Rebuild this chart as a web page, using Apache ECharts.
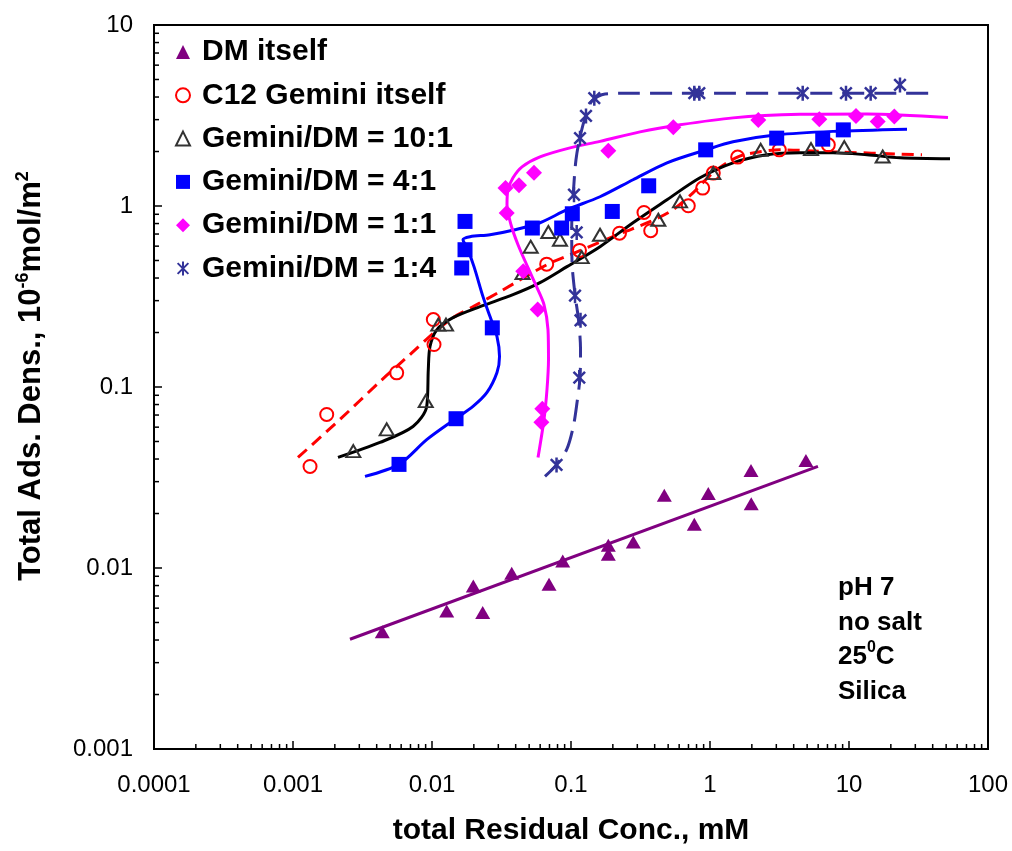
<!DOCTYPE html>
<html>
<head>
<meta charset="utf-8">
<script src="https://cdn.jsdelivr.net/npm/echarts@6/dist/echarts.min.js"></script>
<style>
  html, body { margin: 0; padding: 0; background: #fff; }
  #chart { width: 1012px; height: 851px; }
</style>
</head>
<body>
<div id="chart"></div>
<script>
// Axis ranges and tick labels
const X_MIN = 0.0001, X_MAX = 100;
const Y_MIN = 0.001, Y_MAX = 10;
const xTickLabels = ['0.0001', '0.001', '0.01', '0.1', '1', '10', '100'];
const yTickLabels = ['0.001', '0.01', '0.1', '1', '10'];
const xDecades = [0.0001, 0.001, 0.01, 0.1, 1, 10];
const yDecades = [0.001, 0.01, 0.1, 1];
const minorMultipliers = [2, 3, 4, 5, 6, 7, 8, 9];

// Measured adsorption density vs residual concentration: [conc mM, density]
const dmItself = [
  [0.00439, 0.00444], [0.01276, 0.00579], [0.02316, 0.00568], [0.01982, 0.00796],
  [0.03745, 0.00935], [0.0695, 0.00813], [0.0872, 0.01094], [0.1855, 0.01335],
  [0.1855, 0.0119], [0.2807, 0.0139], [0.469, 0.0252], [0.771, 0.01743],
  [0.972, 0.02584], [1.972, 0.03462], [1.98, 0.02267], [4.90, 0.0393]
];
const c12Gemini = [
  [0.001326, 0.0364], [0.001748, 0.0705], [0.005572, 0.1197], [0.01022, 0.2358],
  [0.01034, 0.1716], [0.06686, 0.4772], [0.1151, 0.5684], [0.2233, 0.7073],
  [0.3745, 0.7303], [0.335, 0.921], [0.698, 1.003], [0.886, 1.256],
  [1.056, 1.52], [1.582, 1.863], [3.152, 2.043], [7.10, 2.177]
];
const ratio10to1 = [
  [0.002715, 0.0442], [0.004722, 0.0583], [0.009012, 0.0835], [0.0111, 0.2212],
  [0.01261, 0.2212], [0.0448, 0.4266], [0.0513, 0.5958], [0.0687, 0.7182],
  [0.0833, 0.6513], [0.1194, 0.5215], [0.1617, 0.694], [0.4247, 0.8397],
  [0.6085, 1.06], [1.056, 1.52], [2.316, 2.043], [5.33, 2.062],
  [9.25, 2.115], [17.47, 1.877]
];
const ratio4to1 = [
  [0.00579, 0.03736], [0.01489, 0.0668], [0.01636, 0.4546], [0.01728, 0.5735],
  [0.01728, 0.8219], [0.02716, 0.2122], [0.0527, 0.7557], [0.0857, 0.7557],
  [0.1022, 0.906], [0.1982, 0.933], [0.3622, 1.293], [0.931, 2.043],
  [3.019, 2.371], [6.47, 2.341], [9.10, 2.634]
];
const ratio1to1 = [
  [0.03379, 1.256], [0.04224, 1.302], [0.03446, 0.9144], [0.05418, 1.526],
  [0.04536, 0.4354], [0.05761, 0.2677], [0.06217, 0.0758], [0.0612, 0.0639],
  [0.1855, 2.017], [0.5445, 2.727], [2.226, 2.991], [6.113, 3.018],
  [11.23, 3.147], [16.09, 2.927], [21.18, 3.119]
];
const ratio1to4 = [
  [0.1471, 3.941], [0.1282, 3.147], [0.1161, 2.371], [0.1051, 1.154],
  [0.1099, 0.7145], [0.1069, 0.3197], [0.1171, 0.2337], [0.1147, 0.1128],
  [0.0787, 0.03713], [0.771, 4.2], [0.8375, 4.2], [4.645, 4.2],
  [9.515, 4.2], [14.32, 4.2], [23.27, 4.667]
];

// Guide curves drawn through each data set
const dmFit = [[0.00257, 0.00404], [5.98, 0.0364]];
const c12Fit = [
  [0.001086, 0.04083], [0.002178, 0.06618], [0.004225, 0.1072], [0.006947, 0.1511],
  [0.01034, 0.1998], [0.01416, 0.2417], [0.02039, 0.2816], [0.03084, 0.3364],
  [0.06719, 0.4742], [0.1161, 0.5663], [0.2252, 0.7028], [0.3701, 0.8186],
  [0.5418, 0.9535], [0.7547, 1.183], [1.051, 1.526], [1.590, 1.869],
  [2.289, 1.992], [3.188, 2.043], [7.672, 1.992], [33.5, 1.918]
];
const fit10to1 = [
  [0.002107, 0.04083], [0.004225, 0.04941], [0.007301, 0.06055], [0.00916, 0.0781],
  [0.009406, 0.1249], [0.009674, 0.1673], [0.01086, 0.2076], [0.01416, 0.2417],
  [0.02215, 0.278], [0.03826, 0.3238], [0.05984, 0.3772], [0.09359, 0.4623],
  [0.1617, 0.5958], [0.2793, 0.8083], [0.4904, 1.083], [0.8473, 1.432],
  [1.464, 1.732], [2.570, 1.918], [4.441, 1.967], [7.672, 1.967],
  [13.47, 1.918], [23.27, 1.846], [53.3, 1.823]
];
const fit4to1 = [
  [0.003296, 0.03209], [0.00579, 0.03736], [0.009204, 0.05133], [0.01489, 0.06705],
  [0.01972, 0.0781], [0.02486, 0.09326], [0.02935, 0.1202], [0.0306, 0.1474],
  [0.02935, 0.19], [0.02614, 0.2449], [0.02327, 0.3157], [0.02005, 0.4623],
  [0.01786, 0.5884], [0.01671, 0.6513], [0.01877, 0.6765], [0.02614, 0.694],
  [0.03955, 0.7396], [0.05984, 0.8083], [0.09359, 0.9535], [0.1617, 1.125],
  [0.2793, 1.396], [0.4904, 1.732], [0.9359, 2.043], [1.464, 2.262],
  [3.034, 2.472], [7.672, 2.584], [26.14, 2.657]
];
const fit1to1 = [
  [0.0579, 0.04083], [0.06393, 0.06618], [0.06719, 0.09687], [0.06888, 0.1418],
  [0.06831, 0.2076], [0.06393, 0.2852], [0.05694, 0.354], [0.04904, 0.4565],
  [0.04157, 0.6111], [0.03701, 0.788], [0.03464, 1.016], [0.03522, 1.229],
  [0.03826, 1.432], [0.04441, 1.646], [0.05984, 1.869], [0.09836, 2.096],
  [0.1617, 2.276], [0.3136, 2.568], [0.6085, 2.808], [1.464, 3.068],
  [4.441, 3.208], [13.47, 3.228], [51.55, 3.08]
];
const fit1to4 = [
  [0.065, 0.03209], [0.078, 0.03689], [0.09314, 0.04519], [0.1039, 0.06055],
  [0.1105, 0.0821], [0.1161, 0.1128], [0.1171, 0.161], [0.1132, 0.2358],
  [0.1069, 0.3238], [0.1017, 0.4926], [0.1012, 0.7683], [0.1039, 1.183],
  [0.1086, 1.8], [0.1161, 2.41], [0.1282, 3.187], [0.1416, 3.808],
  [0.1757, 4.162], [0.2793, 4.2], [40.2, 4.2]
];

const FONT = 'Liberation Sans, Arial, Helvetica, sans-serif';
const minorX = xDecades.flatMap(d => minorMultipliers.map(m => [+(d * m).toPrecision(3), Y_MIN]));
const minorY = yDecades.flatMap(d => minorMultipliers.map(m => [X_MIN, +(d * m).toPrecision(3)]));

// Asterisk marker: an X crossed by a vertical bar
const STAR = 'path://M0,0L10,10M10,0L0,10M5,-1.5L5,11.5';

function fitLine(name, data, color, type) {
  return {
    name: name, type: 'line', data: data, smooth: 0.3, showSymbol: false, symbol: 'none',
    silent: true, z: 2,
    lineStyle: { color: color, width: 3, type: type || 'solid' }
  };
}

function minorTicks(data, vertical) {
  return {
    type: 'custom', coordinateSystem: 'cartesian2d', silent: true, z: 6, data: data,
    renderItem: function (params, api) {
      const p = api.coord([api.value(0), api.value(1)]);
      const shape = vertical
        ? { x1: p[0], y1: p[1], x2: p[0], y2: p[1] - 5 }
        : { x1: p[0], y1: p[1], x2: p[0] + 5, y2: p[1] };
      return { type: 'line', shape: shape, style: { stroke: '#000', lineWidth: 1.5 } };
    }
  };
}

function markers(name, data, symbol, size, style) {
  return {
    name: name, type: 'scatter', data: data, symbol: symbol, symbolSize: size,
    symbolKeepAspect: true, z: 3,
    itemStyle: Object.assign({ opacity: 1 }, style),
    emphasis: { disabled: true }
  };
}

const chart = echarts.init(document.getElementById('chart'), null, { renderer: 'canvas' });

const option = {
  animation: false,
  backgroundColor: '#fff',
  textStyle: { fontFamily: FONT },
  grid: {
    left: 154, right: 24, top: 25, bottom: 101,
    show: true, borderColor: '#000', borderWidth: 2, backgroundColor: 'transparent'
  },
  xAxis: {
    type: 'log', logBase: 10, min: X_MIN, max: X_MAX,
    name: 'total Residual Conc., mM', nameLocation: 'middle', nameGap: 67,
    nameTextStyle: { fontFamily: FONT, fontSize: 30, fontWeight: 'bold', color: '#000' },
    axisLine: { show: true, lineStyle: { color: '#000', width: 2 } },
    axisTick: { show: true, inside: true, length: 8, lineStyle: { color: '#000', width: 1.5 } },
    axisLabel: {
      fontFamily: FONT, fontSize: 24, color: '#000', margin: 24,
      formatter: v => xTickLabels[Math.round(Math.log10(v)) + 4]
    },
    splitLine: { show: false }
  },
  yAxis: {
    type: 'log', logBase: 10, min: Y_MIN, max: Y_MAX,
    name: '{t|Total Ads. Dens., 10}{s|-6}{t|mol/m}{s|2}',
    nameLocation: 'middle', nameGap: 106, nameRotate: 90,
    nameTextStyle: {
      color: '#000',
      padding: [0, 0, 0, 22],
      rich: {
        t: { fontFamily: FONT, fontSize: 31, fontWeight: 'bold', color: '#000', lineHeight: 34 },
        s: { fontFamily: FONT, fontSize: 18, fontWeight: 'bold', color: '#000', lineHeight: 18, verticalAlign: 'top' }
      }
    },
    axisLine: { show: true, lineStyle: { color: '#000', width: 2 } },
    axisTick: { show: true, inside: true, length: 8, lineStyle: { color: '#000', width: 1.5 } },
    axisLabel: {
      fontFamily: FONT, fontSize: 24, color: '#000', margin: 21,
      formatter: v => yTickLabels[Math.round(Math.log10(v)) + 3]
    },
    splitLine: { show: false }
  },
  legend: {
    orient: 'vertical', left: 175, top: 36, padding: 0,
    itemWidth: 14, itemHeight: 14, itemGap: 11.3,
    selectedMode: false,
    textStyle: { fontFamily: FONT, fontSize: 30, fontWeight: 'bold', color: '#000', lineHeight: 32, padding: [0, 0, 0, 7] },
    data: ['DM itself', 'C12 Gemini itself', 'Gemini/DM = 10:1', 'Gemini/DM = 4:1', 'Gemini/DM = 1:1', 'Gemini/DM = 1:4']
  },
  graphic: [{
    type: 'text', left: 838, top: 571, z: 10,
    style: {
      text: 'pH 7\nno salt\n25{sup|0}C\nSilica',
      fontFamily: FONT, fontSize: 26, fontWeight: 'bold', fill: '#000', lineHeight: 34.5,
      rich: {
        sup: { fontFamily: FONT, fontSize: 16, fontWeight: 'bold', fill: '#000', lineHeight: 16, verticalAlign: 'top' }
      }
    }
  }],
  series: [
    fitLine('DM fit', dmFit, '#800080'),
    fitLine('C12 fit', c12Fit, '#FF0000', [12, 7]),
    fitLine('10:1 fit', fit10to1, '#000000'),
    fitLine('4:1 fit', fit4to1, '#0000FF'),
    fitLine('1:1 fit', fit1to1, '#FF00FF'),
    fitLine('1:4 fit', fit1to4, '#333399', [22, 10]),
    markers('DM itself', dmItself, 'triangle', [15, 13], { color: '#800080' }),
    markers('C12 Gemini itself', c12Gemini, 'circle', 13,
      { color: 'rgba(255,255,255,0)', borderColor: '#FF0000', borderWidth: 2 }),
    markers('Gemini/DM = 10:1', ratio10to1, 'triangle', [14, 12],
      { color: 'rgba(255,255,255,0)', borderColor: '#333333', borderWidth: 2 }),
    markers('Gemini/DM = 4:1', ratio4to1, 'rect', 15, { color: '#0000FF' }),
    markers('Gemini/DM = 1:1', ratio1to1, 'diamond', 16, { color: '#FF00FF' }),
    markers('Gemini/DM = 1:4', ratio1to4, STAR, 15,
      { color: 'rgba(255,255,255,0)', borderColor: '#333399', borderWidth: 2.5 }),
    minorTicks(minorX, true),
    minorTicks(minorY, false)
  ]
};

chart.setOption(option);
</script>
</body>
</html>
